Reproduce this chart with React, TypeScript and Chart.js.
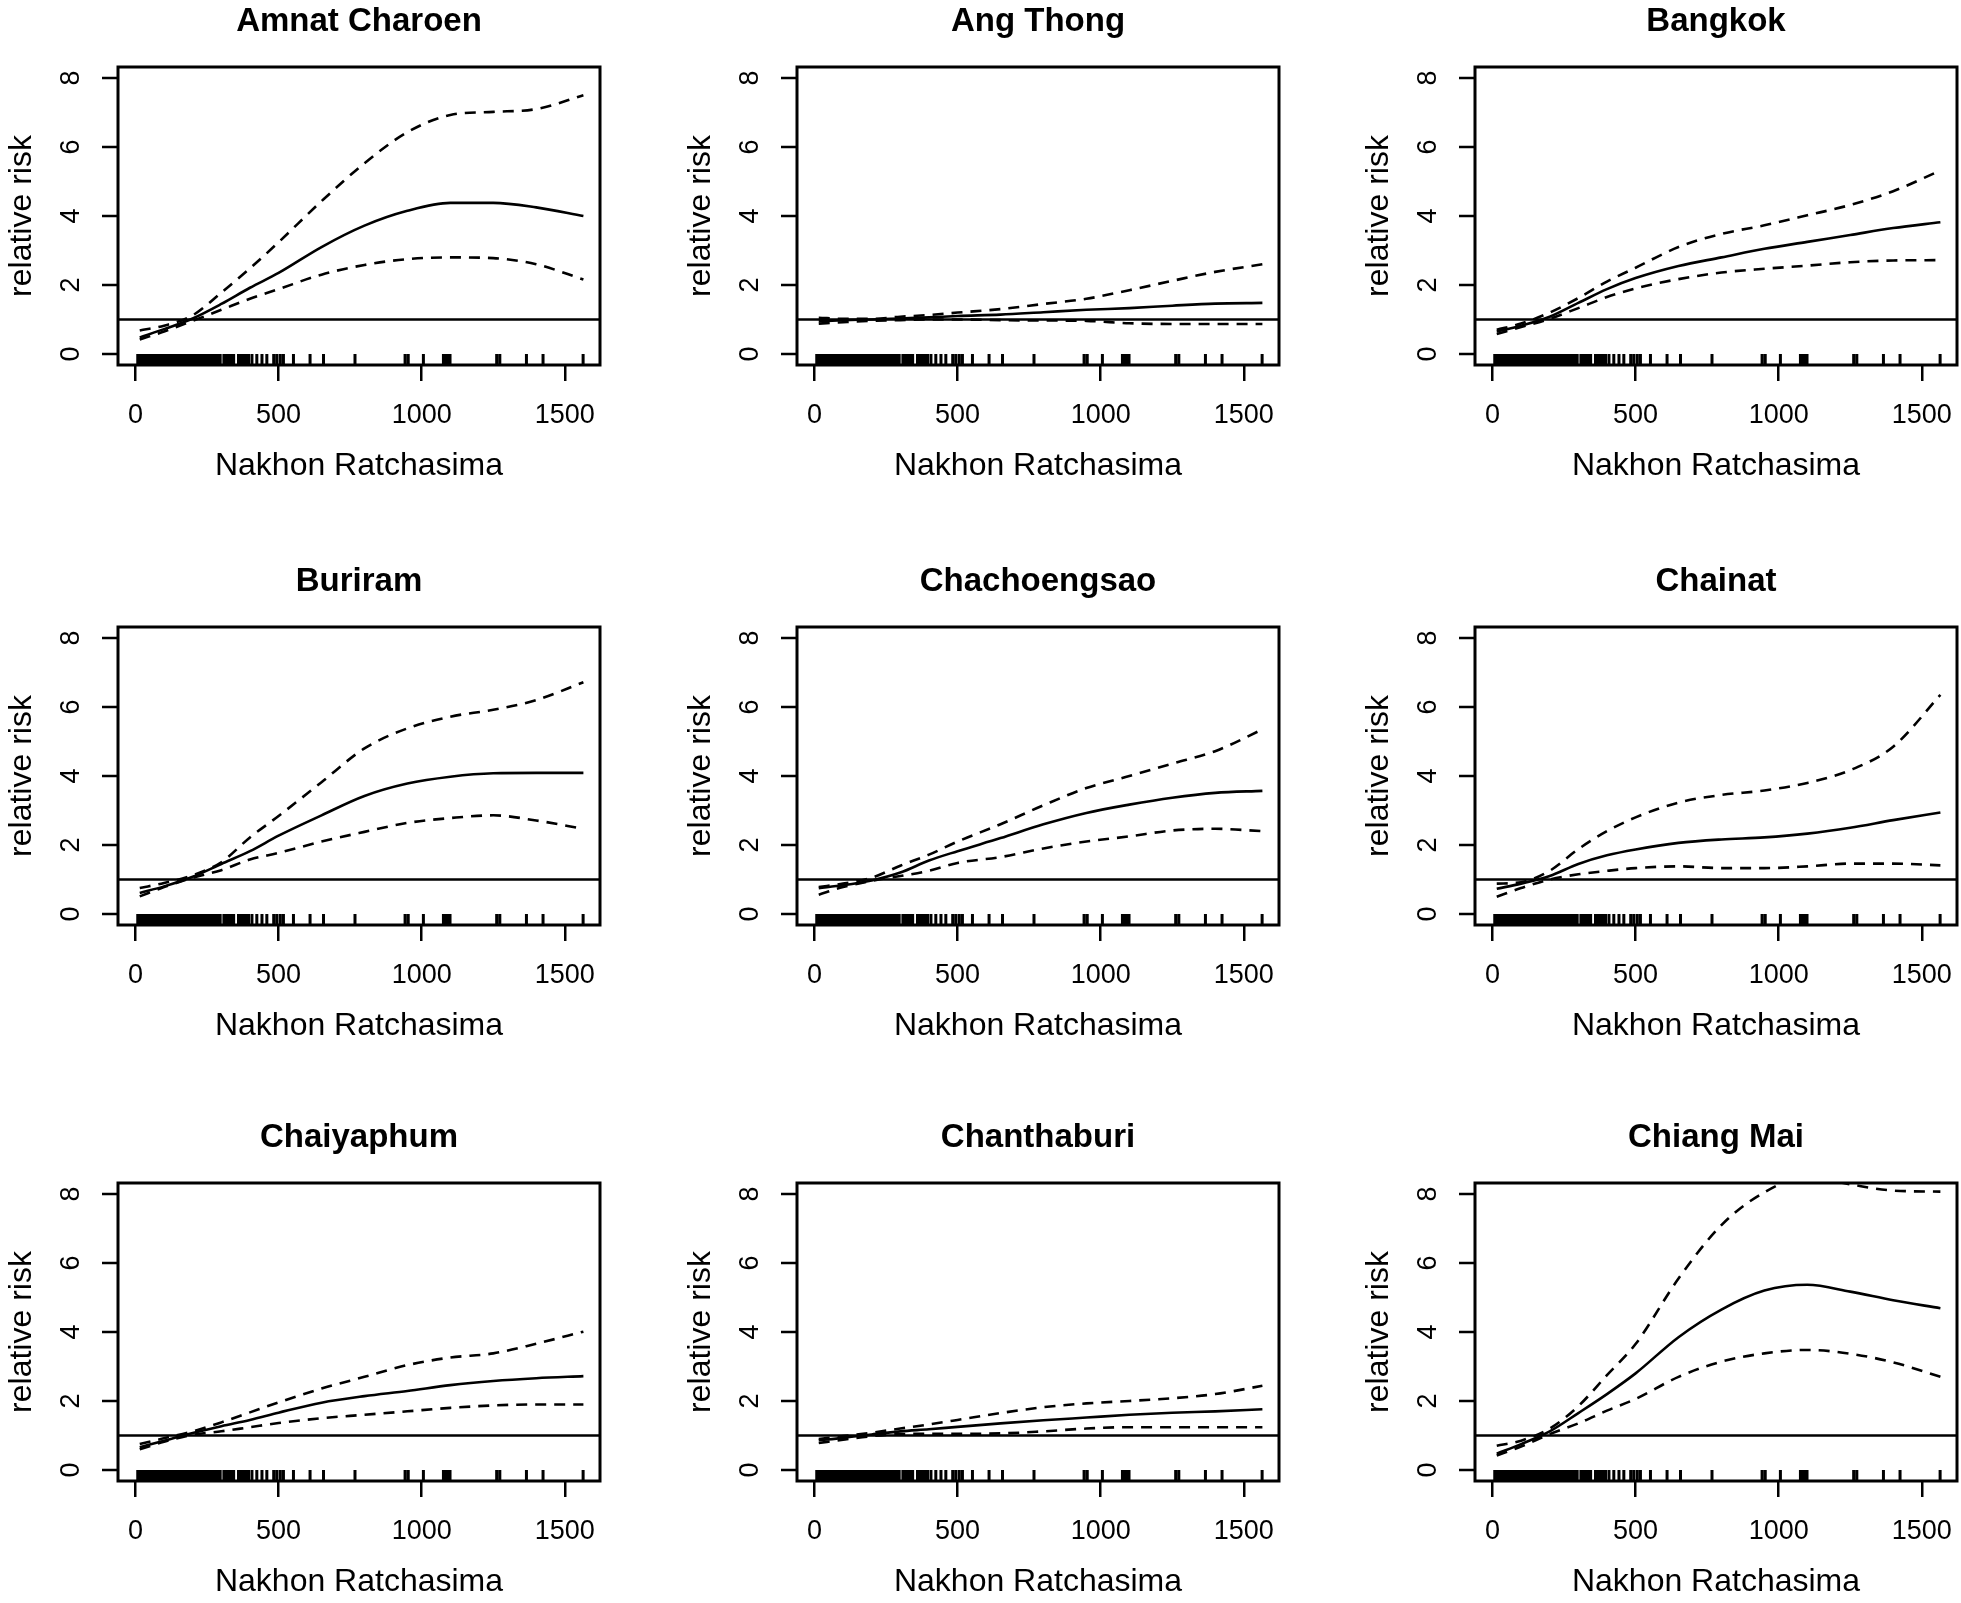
import React, { useEffect, useRef } from "react";
import { Chart, registerables } from "chart.js";

Chart.register(...registerables);

// ---------------- data ----------------
const PROVINCES = [
  "Amnat Charoen",
  "Ang Thong",
  "Bangkok",
  "Buriram",
  "Chachoengsao",
  "Chainat",
  "Chaiyaphum",
  "Chanthaburi",
  "Chiang Mai",
];

const X_LABEL = "Nakhon Ratchasima";
const Y_LABEL = "relative risk";

// exposure values at which the curves were read
const X_GRID = [15, 100, 200, 300, 400, 500, 650, 800, 950, 1100, 1250, 1400, 1565];

const RR_AMNAT = [0.48, 0.72, 1.03, 1.45, 1.92, 2.35, 3.1, 3.72, 4.15, 4.38, 4.38, 4.25, 4.0];
const UP_AMNAT = [0.68, 0.82, 1.12, 1.78, 2.48, 3.24, 4.43, 5.53, 6.43, 6.93, 7.02, 7.1, 7.5];
const LO_AMNAT = [0.42, 0.65, 0.96, 1.28, 1.6, 1.88, 2.3, 2.58, 2.75, 2.8, 2.78, 2.6, 2.16];

const RR_ANGTHONG = [0.95, 0.98, 1.0, 1.03, 1.06, 1.1, 1.14, 1.21, 1.28, 1.33, 1.4, 1.46, 1.48];
const UP_ANGTHONG = [1.05, 1.02, 1.02, 1.08, 1.13, 1.2, 1.3, 1.45, 1.6, 1.85, 2.12, 2.38, 2.6];
const LO_ANGTHONG = [0.88, 0.92, 0.96, 0.98, 1.0, 1.0, 0.98, 0.97, 0.96, 0.89, 0.87, 0.87, 0.87];

const RR_BANGKOK = [0.65, 0.82, 1.08, 1.48, 1.88, 2.2, 2.55, 2.8, 3.05, 3.25, 3.45, 3.65, 3.82];
const UP_BANGKOK = [0.7, 0.88, 1.2, 1.62, 2.1, 2.5, 3.1, 3.48, 3.73, 4.02, 4.32, 4.72, 5.32];
const LO_BANGKOK = [0.58, 0.78, 1.02, 1.33, 1.65, 1.9, 2.17, 2.36, 2.47, 2.56, 2.66, 2.71, 2.72];

const RR_BURIRAM = [0.61, 0.8, 1.08, 1.45, 1.82, 2.27, 2.86, 3.42, 3.78, 3.98, 4.08, 4.09, 4.09];
const UP_BURIRAM = [0.75, 0.9, 1.12, 1.5, 2.22, 2.84, 3.82, 4.8, 5.38, 5.72, 5.92, 6.2, 6.72];
const LO_BURIRAM = [0.51, 0.78, 1.05, 1.27, 1.58, 1.77, 2.1, 2.38, 2.64, 2.78, 2.86, 2.71, 2.47];

const RR_CHACHOENGSAO = [0.75, 0.83, 0.97, 1.2, 1.55, 1.82, 2.2, 2.6, 2.93, 3.17, 3.37, 3.51, 3.57];
const UP_CHACHOENGSAO = [0.78, 0.88, 1.05, 1.4, 1.72, 2.1, 2.6, 3.15, 3.65, 4.0, 4.36, 4.72, 5.35];
const LO_CHACHOENGSAO = [0.56, 0.78, 0.96, 1.1, 1.25, 1.48, 1.65, 1.9, 2.1, 2.25, 2.42, 2.47, 2.4];

const RR_CHAINAT = [0.73, 0.88, 1.1, 1.45, 1.7, 1.87, 2.06, 2.16, 2.22, 2.33, 2.5, 2.72, 2.94];
const UP_CHAINAT = [0.88, 0.92, 1.25, 1.88, 2.4, 2.8, 3.23, 3.45, 3.58, 3.8, 4.17, 4.85, 6.35];
const LO_CHAINAT = [0.5, 0.75, 1.0, 1.15, 1.25, 1.33, 1.38, 1.33, 1.33, 1.38, 1.46, 1.46, 1.41];

const RR_CHAIYAPHUM = [0.66, 0.85, 1.07, 1.27, 1.45, 1.66, 1.95, 2.14, 2.29, 2.46, 2.58, 2.66, 2.72];
const UP_CHAIYAPHUM = [0.75, 0.92, 1.12, 1.38, 1.67, 1.96, 2.36, 2.7, 3.04, 3.26, 3.38, 3.66, 4.01];
const LO_CHAIYAPHUM = [0.6, 0.82, 1.02, 1.12, 1.24, 1.36, 1.5, 1.6, 1.7, 1.8, 1.87, 1.9, 1.9];

const RR_CHANTHABURI = [0.86, 0.93, 1.03, 1.12, 1.18, 1.25, 1.35, 1.44, 1.52, 1.6, 1.66, 1.7, 1.76];
const UP_CHANTHABURI = [0.9, 0.98, 1.08, 1.2, 1.32, 1.45, 1.65, 1.82, 1.93, 2.0, 2.08, 2.2, 2.44];
const LO_CHANTHABURI = [0.78, 0.88, 0.98, 1.04, 1.05, 1.05, 1.06, 1.12, 1.2, 1.24, 1.24, 1.24, 1.24];

const RR_CHIANGMAI = [0.47, 0.75, 1.12, 1.65, 2.2, 2.8, 3.85, 4.65, 5.2, 5.37, 5.17, 4.92, 4.69];
const UP_CHIANGMAI = [0.7, 0.85, 1.2, 1.85, 2.75, 3.65, 5.55, 7.1, 8.05, 8.5, 8.28, 8.1, 8.07];
const LO_CHIANGMAI = [0.42, 0.68, 1.04, 1.35, 1.72, 2.06, 2.7, 3.14, 3.38, 3.48, 3.37, 3.12, 2.7];

// observed exposure values (rug)
const RUG = [
  8, 12, 16, 20, 24, 28, 32, 36, 40, 44, 48, 52, 56, 60, 64, 68, 72, 76, 80, 84,
  88, 92, 96, 100, 104, 108, 112, 116, 120, 124, 128, 132, 136, 140, 144, 148, 152,
  156, 160, 164, 168, 172, 176, 180, 184, 188, 192, 196, 200, 204, 208, 212, 216,
  220, 224, 228, 232, 236, 240, 244,
  251, 256, 261, 266, 271, 276, 281, 286, 291, 296,
  309, 314, 319, 324, 329, 334, 339, 343,
  360, 365, 370, 375, 380, 385, 390, 395,
  407, 424, 442, 459, 483, 494, 506, 517, 552, 610, 657, 767, 942, 953, 1006,
  1076, 1080, 1084, 1088, 1092, 1096, 1099, 1262, 1273, 1366, 1424, 1564,
];

const X_TICKS = [0, 500, 1000, 1500];
const Y_TICKS = [0, 2, 4, 6, 8];
const X_LIMITS = [-61, 1623];
const Y_LIMITS = [-0.32, 8.32];
const REF_RR = 1;

const SERIES_RR = [RR_AMNAT, RR_ANGTHONG, RR_BANGKOK, RR_BURIRAM, RR_CHACHOENGSAO, RR_CHAINAT, RR_CHAIYAPHUM, RR_CHANTHABURI, RR_CHIANGMAI];
const SERIES_UP = [UP_AMNAT, UP_ANGTHONG, UP_BANGKOK, UP_BURIRAM, UP_CHACHOENGSAO, UP_CHAINAT, UP_CHAIYAPHUM, UP_CHANTHABURI, UP_CHIANGMAI];
const SERIES_LO = [LO_AMNAT, LO_ANGTHONG, LO_BANGKOK, LO_BURIRAM, LO_CHACHOENGSAO, LO_CHAINAT, LO_CHAIYAPHUM, LO_CHANTHABURI, LO_CHIANGMAI];

// ---------------- layout ----------------
const FONT = "'Liberation Sans', Arial, Helvetica, sans-serif";
const CANVAS_W = 604;
const CANVAS_H = 487;
const COL_LEFT = [0, 679, 1357];
const ROW_TOP = [0, 560, 1116];
const INK = "#000";

const rDecor = {
  id: "rDecor",
  afterDraw(chart: any, _args: any, opts: any) {
    const { ctx, chartArea: a, scales } = chart;
    const xs = scales.x;
    const ys = scales.y;
    ctx.save();
    ctx.setLineDash([]);
    ctx.lineCap = "butt";
    // plot box
    ctx.strokeStyle = INK;
    ctx.lineWidth = 3;
    ctx.strokeRect(a.left, a.top, a.right - a.left, a.bottom - a.top);
    // rug
    ctx.lineWidth = 3;
    ctx.beginPath();
    RUG.forEach((v) => {
      const px = xs.getPixelForValue(v);
      ctx.moveTo(px, a.bottom);
      ctx.lineTo(px, a.bottom - 11);
    });
    ctx.stroke();
    // y tick marks + rotated labels
    ctx.lineWidth = 2.5;
    ctx.beginPath();
    Y_TICKS.forEach((v) => {
      const py = ys.getPixelForValue(v);
      ctx.moveTo(a.left, py);
      ctx.lineTo(a.left - 16, py);
    });
    ctx.stroke();
    ctx.fillStyle = INK;
    ctx.textAlign = "center";
    ctx.textBaseline = "middle";
    ctx.font = `27px ${FONT}`;
    Y_TICKS.forEach((v) => {
      const py = ys.getPixelForValue(v);
      ctx.save();
      ctx.translate(a.left - 46, py);
      ctx.rotate(-Math.PI / 2);
      ctx.fillText(String(v), 0, 0);
      ctx.restore();
    });
    // axis titles
    ctx.font = `32px ${FONT}`;
    ctx.save();
    ctx.translate(a.left - 96, (a.top + a.bottom) / 2);
    ctx.rotate(-Math.PI / 2);
    ctx.fillText(Y_LABEL, 0, 0);
    ctx.restore();
    ctx.fillText(X_LABEL, (a.left + a.right) / 2, a.bottom + 101);
    // main title
    ctx.font = `bold 33px ${FONT}`;
    ctx.fillText(opts.title, (a.left + a.right) / 2, a.top - 45);
    ctx.restore();
  },
};

function Panel({ idx }: { idx: number }) {
  const ref = useRef<HTMLCanvasElement | null>(null);
  useEffect(() => {
    const canvas = ref.current;
    if (!canvas) return;
    const pts = (ys: number[]) => X_GRID.map((x, i) => ({ x, y: ys[i] }));
    const lineBase = {
      borderColor: INK,
      borderWidth: 2.6,
      pointRadius: 0,
      fill: false,
      cubicInterpolationMode: "monotone" as const,
    };
    const chart = new Chart(canvas, {
      type: "line",
      data: {
        datasets: [
          {
            ...lineBase,
            data: [
              { x: X_LIMITS[0], y: REF_RR },
              { x: X_LIMITS[1], y: REF_RR },
            ],
            cubicInterpolationMode: "default",
            tension: 0,
          },
          { ...lineBase, data: pts(SERIES_RR[idx]) },
          { ...lineBase, data: pts(SERIES_UP[idx]), borderDash: [11, 8] },
          { ...lineBase, data: pts(SERIES_LO[idx]), borderDash: [11, 8] },
        ],
      },
      options: {
        responsive: false,
        animation: false,
        events: [],
        layout: { padding: { left: 0, top: 67, right: CANVAS_W - 600, bottom: 0 } },
        plugins: {
          legend: { display: false },
          tooltip: { enabled: false },
          title: { display: false },
          rDecor: { title: PROVINCES[idx] },
        } as any,
        scales: {
          x: {
            type: "linear",
            min: X_LIMITS[0],
            max: X_LIMITS[1],
            afterBuildTicks: (s: any) => {
              s.ticks = X_TICKS.map((v) => ({ value: v }));
            },
            afterFit: (s: any) => {
              s.height = 122;
              s.paddingLeft = 0;
              s.paddingRight = 0;
            },
            grid: {
              drawOnChartArea: false,
              drawTicks: true,
              tickLength: 16,
              color: INK,
              lineWidth: 2.5,
            },
            border: { display: false },
            ticks: {
              color: INK,
              font: { size: 27, family: FONT },
              padding: 18,
              maxRotation: 0,
              autoSkip: false,
              callback: (v: any) => String(v),
            },
          },
          y: {
            type: "linear",
            min: Y_LIMITS[0],
            max: Y_LIMITS[1],
            afterBuildTicks: (s: any) => {
              s.ticks = Y_TICKS.map((v) => ({ value: v }));
            },
            afterFit: (s: any) => {
              s.width = 118;
              s.paddingTop = 0;
              s.paddingBottom = 0;
            },
            grid: { display: false },
            border: { display: false },
            ticks: { display: false },
          },
        },
      },
      plugins: [rDecor],
    });
    return () => chart.destroy();
  }, [idx]);
  const col = idx % 3;
  const row = Math.floor(idx / 3);
  return (
    <canvas
      ref={ref}
      width={CANVAS_W}
      height={CANVAS_H}
      style={{
        position: "absolute",
        left: COL_LEFT[col],
        top: ROW_TOP[row],
        width: CANVAS_W,
        height: CANVAS_H,
      }}
    />
  );
}

export default function App() {
  return (
    <div
      style={{
        position: "absolute",
        left: 0,
        top: 0,
        width: 1961,
        height: 1603,
        background: "#fff",
        overflow: "hidden",
      }}
    >
      {PROVINCES.map((_, i) => (
        <Panel key={i} idx={i} />
      ))}
    </div>
  );
}
